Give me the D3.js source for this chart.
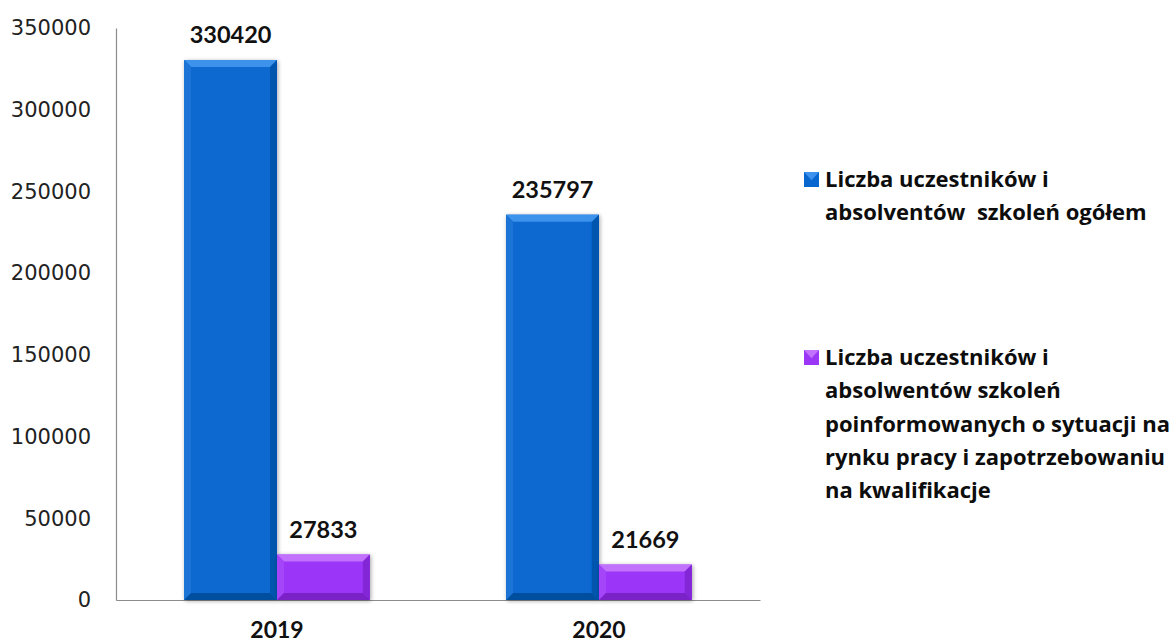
<!DOCTYPE html>
<html><head><meta charset="utf-8">
<script src="https://cdn.jsdelivr.net/npm/d3@7/dist/d3.min.js"></script>
<style>
html,body{margin:0;padding:0;background:#fff;}
svg{display:block;}
</style></head>
<body>
<svg id="chart" width="1174" height="644"></svg>
<script>
const categories = ["2019", "2020"];
const seriesNames = [
  ["Liczba uczestników i", "absolventów  szkoleń ogółem"],
  ["Liczba uczestników i", "absolwentów szkoleń", "poinformowanych o sytuacji na", "rynku pracy i zapotrzebowaniu", "na kwalifikacje"]
];
const totalValues = [330420, 235797];
const informedValues = [27833, 21669];
const yTicks = [0, 50000, 100000, 150000, 200000, 250000, 300000, 350000];

const colors = [
  {main: "#0767CF", top: "#3C92EC", left: "#1A74D6", right: "#0556AE", bottom: "#04509F"},
  {main: "#9B36F7", top: "#C271FD", left: "#A545F9", right: "#8226D6", bottom: "#7A22C8"}
];

const svg = d3.select("#chart");
const m = {left: 116, right: 760, top: 28, bottom: 600};

const y = d3.scaleLinear().domain([0, 350000]).range([m.bottom, m.top]);
const x0 = d3.scaleBand().domain(categories).range([m.left, m.right]).paddingInner(0.4233).paddingOuter(0.2117);
const x1 = d3.scaleBand().domain([0, 1]).range([0, x0.bandwidth()]);

const defs = svg.append("defs");
const f = defs.append("filter").attr("id", "sh").attr("x", "-20%").attr("y", "-20%").attr("width", "140%").attr("height", "140%");
f.append("feGaussianBlur").attr("in", "SourceAlpha").attr("stdDeviation", 2);
f.append("feOffset").attr("dx", 1).attr("dy", 1).attr("result", "b");
f.append("feComponentTransfer").append("feFuncA").attr("type", "linear").attr("slope", 0.35);
const mg = f.append("feMerge");
mg.append("feMergeNode");
mg.append("feMergeNode").attr("in", "SourceGraphic");

// axes
const yAxis = d3.axisLeft(y).tickValues(yTicks).tickSize(0).tickPadding(25).tickFormat(d3.format("d"));
const ga = svg.append("g").attr("transform", `translate(${m.left},0)`).call(yAxis);
ga.select(".domain").attr("stroke", "#8c8c8c").attr("stroke-width", 1.2);
ga.selectAll("text").attr("font-family", "DejaVu Sans").attr("font-size", 21).attr("fill", "#222");

const xAxis = d3.axisBottom(x0).tickSize(0).tickPadding(22);
const gx = svg.append("g").attr("transform", `translate(0,${m.bottom})`).call(xAxis);
gx.select(".domain").attr("stroke", "#8c8c8c").attr("stroke-width", 1.2);
gx.selectAll("text").attr("font-family", "Lato").attr("font-weight", "bold").attr("font-size", 23).attr("fill", "#111");

// bars
const data = [];
categories.forEach((c, i) => {
  data.push({cat: c, s: 0, v: totalValues[i]});
  data.push({cat: c, s: 1, v: informedValues[i]});
});

const bv = 7;
const bars = svg.append("g").selectAll("g").data(data).join("g").attr("filter", "url(#sh)");
bars.each(function(d) {
  const g = d3.select(this);
  const xl = x0(d.cat) + x1(d.s), xr = xl + x1.bandwidth();
  const yt = y(d.v), yb = y(0);
  const c = colors[d.s];
  g.append("rect").attr("x", xl).attr("y", yt).attr("width", xr - xl).attr("height", yb - yt).attr("fill", c.main);
  const b = Math.min(bv, (yb - yt) / 2);
  const poly = (pts, fill) => g.append("polygon").attr("points", pts.map(p => p.join(",")).join(" ")).attr("fill", fill);
  poly([[xl, yt], [xr, yt], [xr - b, yt + b], [xl + b, yt + b]], c.top);
  poly([[xl, yt], [xl + b, yt + b], [xl + b, yb - b], [xl, yb]], c.left);
  poly([[xr, yt], [xr, yb], [xr - b, yb - b], [xr - b, yt + b]], c.right);
  poly([[xl, yb], [xl + b, yb - b], [xr - b, yb - b], [xr, yb]], c.bottom);
});

svg.append("g").selectAll("text").data(data).join("text")
  .attr("x", d => x0(d.cat) + x1(d.s) + x1.bandwidth() / 2)
  .attr("y", d => y(d.v) - 17)
  .attr("text-anchor", "middle")
  .attr("font-family", "Lato").attr("font-weight", "bold").attr("font-size", 23.5).attr("fill", "#111")
  .text(d => d.v);

// legend
const legendTops = [187, 365];
const lg = svg.append("g");
seriesNames.forEach((lines, i) => {
  const c = colors[i];
  const ly = legendTops[i];
  const mx = 804, my = ly - 15, ms = 15;
  const g = lg.append("g");
  g.append("rect").attr("x", mx).attr("y", my).attr("width", ms).attr("height", ms).attr("fill", c.main);
  g.append("polygon").attr("points", `${mx},${my} ${mx+ms},${my} ${mx+ms/2},${my+ms*0.55}`).attr("fill", c.top);
  const t = g.append("text").attr("font-family", "Open Sans").attr("font-weight", "bold").attr("font-size", 22).attr("fill", "#0d0d0d").attr("xml:space", "preserve").style("white-space", "pre");
  lines.forEach((ln, j) => {
    t.append("tspan").attr("x", 825).attr("y", ly + j * 33.3).text(ln);
  });
});
</script>
</body></html>
